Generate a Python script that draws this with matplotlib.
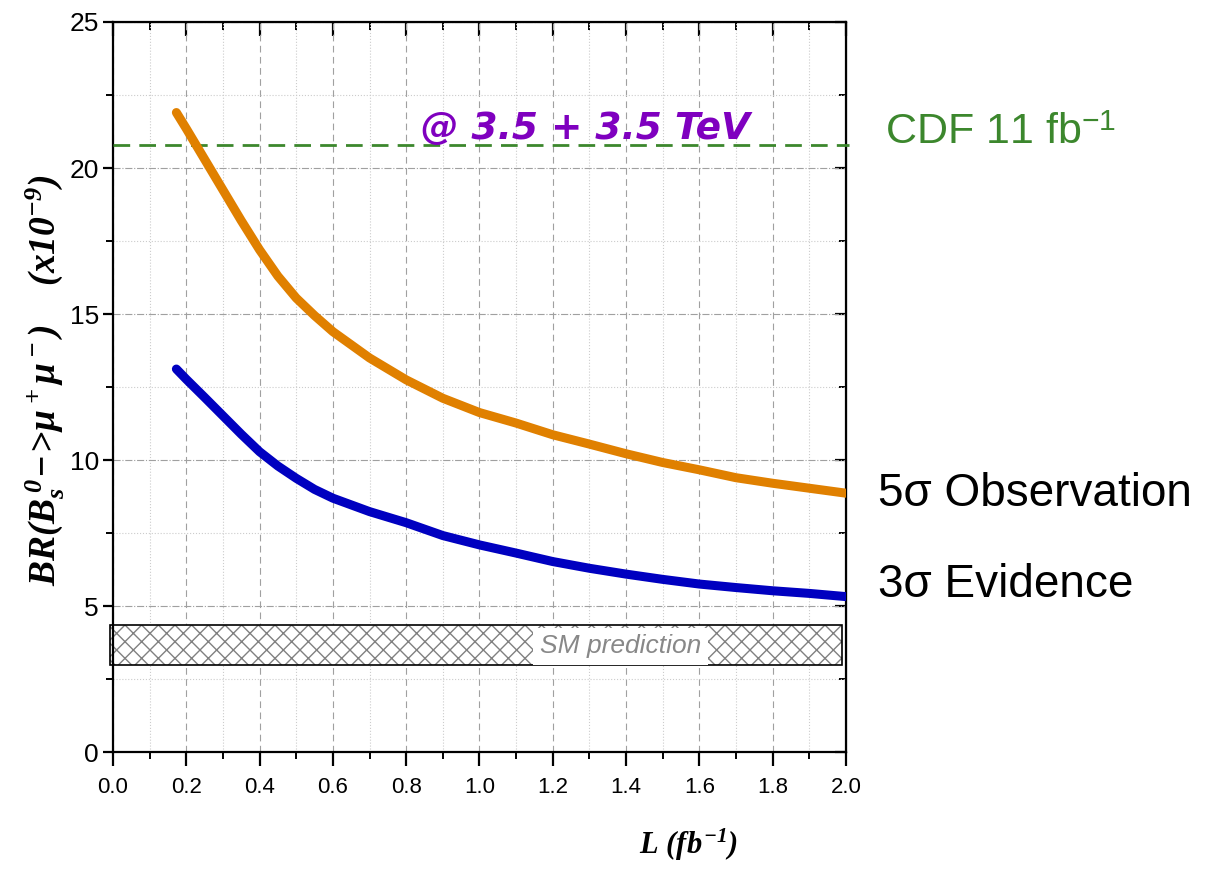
import numpy as np
import matplotlib
matplotlib.use('Agg')
import matplotlib.pyplot as plt
from matplotlib.patches import Rectangle
from matplotlib.ticker import MultipleLocator, FormatStrFormatter

plt.rcParams['font.family'] = ['Liberation Sans', 'DejaVu Sans']
plt.rcParams['mathtext.fontset'] = 'custom'
plt.rcParams['mathtext.rm'] = 'Liberation Serif:bold:italic'
plt.rcParams['mathtext.it'] = 'Liberation Serif:bold:italic'
plt.rcParams['mathtext.bf'] = 'Liberation Serif:bold:italic'
plt.rcParams['mathtext.sf'] = 'Liberation Sans'

# luminosity (fb^-1)
lumi = [0.173, 0.2, 0.25, 0.3, 0.35, 0.4, 0.45, 0.5, 0.55, 0.6, 0.7, 0.8, 0.9, 1.0,
        1.1, 1.2, 1.3, 1.4, 1.5, 1.6, 1.7, 1.8, 1.9, 2.0]
# BR (x1e-9) needed for 5 sigma observation
obs_5sigma = [21.9, 21.35, 20.3, 19.25, 18.2, 17.2, 16.3, 15.55, 14.95, 14.4, 13.5, 12.75,
              12.12, 11.63, 11.27, 10.87, 10.55, 10.22, 9.92, 9.67, 9.40, 9.21, 9.04, 8.87]
# BR (x1e-9) needed for 3 sigma evidence
evi_3sigma = [13.12, 12.77, 12.15, 11.52, 10.89, 10.29, 9.8, 9.38, 9.0, 8.70, 8.24, 7.86,
              7.42, 7.10, 6.82, 6.53, 6.30, 6.10, 5.92, 5.76, 5.64, 5.53, 5.44, 5.33]
cdf_limit = 20.8
sm_low, sm_high = 3.0, 4.35

fig = plt.figure(figsize=(12.16, 8.75), dpi=100)
ax = fig.add_axes([0.0929, 0.1402, 0.6028, 0.8347])

ax.set_xlim(0, 2.0)
ax.set_ylim(0, 25)

# grid
ax.xaxis.set_major_locator(MultipleLocator(0.2))
ax.xaxis.set_minor_locator(MultipleLocator(0.1))
ax.xaxis.set_major_formatter(FormatStrFormatter('%.1f'))
ax.yaxis.set_major_locator(MultipleLocator(5))
ax.yaxis.set_minor_locator(MultipleLocator(2.5))
ax.grid(which='major', axis='x', color='#a0a0a0', linestyle=(0, (6, 4)), linewidth=0.8)
ax.grid(which='major', axis='y', color='#a0a0a0', linestyle='-.', linewidth=0.8)
ax.grid(which='minor', color='#cccccc', linestyle=':', linewidth=0.8)
ax.set_axisbelow(True)

# SM band
ax.add_patch(Rectangle((-0.008, sm_low), 1.998, sm_high - sm_low, facecolor='white',
                       edgecolor='#808080', hatch='xx', linewidth=0, zorder=2, clip_on=False))
ax.add_patch(Rectangle((-0.008, sm_low), 1.998, sm_high - sm_low, fill=False,
                       edgecolor='black', linewidth=1.2, zorder=2, clip_on=False))
ax.text(1.385, (sm_low + sm_high) / 2 - 0.05, 'SM prediction', color='#888888', fontsize=19,
        style='italic', ha='center', va='center', zorder=3,
        bbox=dict(facecolor='white', edgecolor='none', boxstyle='square,pad=0.25'))

# curves
ax.plot(lumi, obs_5sigma, color='#E08000', linewidth=6.5, solid_capstyle='round',
        solid_joinstyle='round', zorder=4)
ax.plot(lumi, evi_3sigma, color='#0000C0', linewidth=6.5, solid_capstyle='round',
        solid_joinstyle='round', zorder=4)

# CDF limit
ax.axhline(cdf_limit, xmin=0, xmax=1.004, color='#3C872D', linewidth=2,
           dashes=(6, 3.3), zorder=3, clip_on=False)

ax.text(1.29, 21.35, '@ 3.5 + 3.5 TeV', color='#7F00BF', fontsize=27, style='italic',
        fontweight='bold', family='DejaVu Sans', ha='center', va='center', zorder=5)

# labels on the right
fig.text(0.728, 0.848, r'CDF 11 fb$^{\mathsf{-1}}$', color='#3C872D', fontsize=31,
         ha='left', va='center')
fig.text(0.722, 0.436, '5\u03c3 Observation', fontsize=33, ha='left', va='center')
fig.text(0.722, 0.331, '3\u03c3 Evidence', fontsize=33, ha='left', va='center')

# axes styling
for sp in ax.spines.values():
    sp.set_linewidth(1.6)
ax.tick_params(which='major', axis='x', direction='out', length=10, width=1.6, labelsize=16, pad=8)
ax.tick_params(which='minor', axis='x', direction='out', length=5, width=1.4)
ax.tick_params(which='major', axis='y', direction='out', length=7, width=1.6, labelsize=19, pad=3)
ax.tick_params(which='minor', axis='y', direction='out', length=5, width=1.4)

top = ax.secondary_xaxis('top')
top.xaxis.set_major_locator(MultipleLocator(0.2))
top.xaxis.set_minor_locator(MultipleLocator(0.1))
top.tick_params(which='major', direction='in', length=10, width=1.6, labeltop=False)
top.tick_params(which='minor', direction='in', length=6, width=1.4)
right = ax.secondary_yaxis('right')
right.yaxis.set_major_locator(MultipleLocator(5))
right.yaxis.set_minor_locator(MultipleLocator(2.5))
right.tick_params(which='major', direction='in', length=8, width=1.6, labelright=False)
right.tick_params(which='minor', direction='in', length=5, width=1.4)

ax.set_ylabel(r'$BR(B_s^{\,0}\!-\!\!>\!\mu^+\mu^-)\ \ \ \ (x10^{-9})$', fontsize=27)
ax.yaxis.set_label_coords(-0.063, 0.51)
fig.text(0.566, 0.034, r'$L\ (fb^{-1})$', fontsize=22, ha='center', va='center')

plt.savefig('out.png', dpi=100)
